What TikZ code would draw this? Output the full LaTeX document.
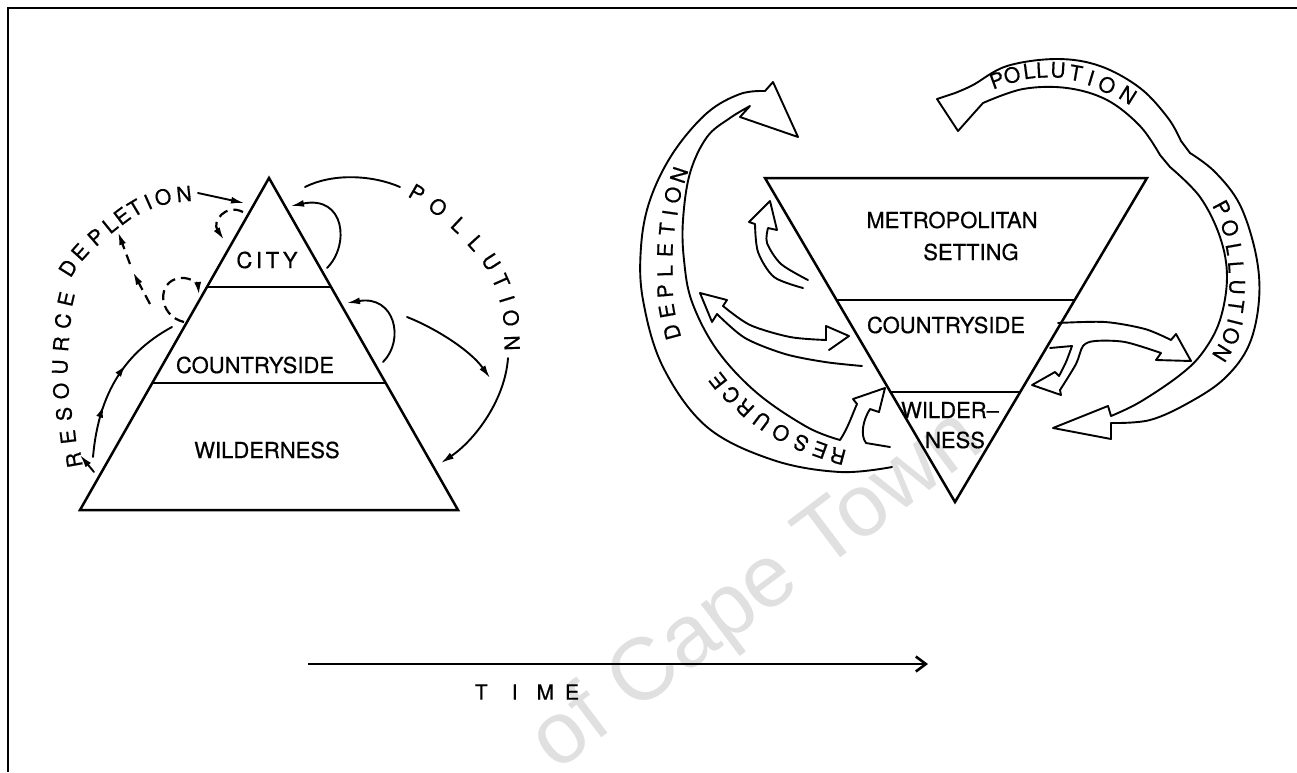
\documentclass[tikz,border=0pt]{standalone}
\usepackage{fontspec}
\setmainfont{TeX Gyre Heros}[FakeBold=0.6]
\newfontfamily\wmfont{Liberation Sans}
\usetikzlibrary{arrows.meta,calc,decorations.markings}
\newcommand\lblfont{\fontsize{22}{22}\selectfont}
\newcommand\arcletfont{\fontsize{21}{21}\selectfont}
\begin{document}
\begin{tikzpicture}[x=1pt,y=-1pt,
  mainln/.style={line width=2.5pt, line join=miter},
  aln/.style={line width=1.9pt, line join=round, line cap=round},
  dashln/.style={aln, line width=2.2pt, line cap=butt, dash pattern=on 10pt off 6pt},
  lbl/.style={inner sep=0pt, font=\lblfont},
  arcl/.style={inner sep=0pt, font=\arcletfont},
  atip/.style={-{Latex[length=13pt,width=7pt]}},
]
\useasboundingbox (0,0) rectangle (1297,772);
\fill[white] (0,0) rectangle (1297,772);
% watermark
\node[rotate=37, text=black!12, inner sep=0pt, font={\wmfont\fontsize{88}{88}\selectfont}] (wm) at (758,592) {of Cape Town};
% frame
\draw[line width=2.6pt] (8,772) -- (8,8) -- (1297,8);

% ---------------- left pyramid ----------------
\coordinate (A) at (269,178);
\coordinate (BL) at (80,510);
\coordinate (BR) at (458,510);
\draw[mainln] (A) -- (BL) -- (BR) -- cycle;
\draw[mainln] ($(A)!0.328!(BL)$) -- ($(A)!0.328!(BR)$);
\draw[mainln] ($(A)!0.617!(BL)$) -- ($(A)!0.617!(BR)$);
\node[lbl] (city) at (267,260) {C\,I\,T\,Y};
\node[lbl] (cs1) at (255,365) {COUNTRYSIDE};
\node[lbl] (wild1) at (267,450) {WILDERNESS};

% arc texts
\foreach \c/\x/\y/\r [count=\i] in {R/74/460/100, E/68/437/97, S/64/414/94, O/61/391/91, U/60/367/88, R/61/344/85, C/63/321/81, E/66/299/77,
  D/68/268/58, E/80/252/48, P/96/237/41, L/110/225/39, E/122/216/37, T/135/208/31, I/148/202/24, O/163/197/15, N/184/194/6}
  \node[arcl, rotate=\r] (lrd\i) at (\x,\y) {\c};
\foreach \c/\x/\y/\r [count=\i] in {P/417/193/-30, O/438/207/-38, L/459/225/-43, L/476/243/-48, U/491/262/-57, T/501/281/-66, I/507/299/-73, O/511/318/-80, N/512/343/-88}
  \node[arcl, rotate=\r] (lpo\i) at (\x,\y) {\c};

% left arrows
\coordinate (rdN) at (198,193);
\coordinate (rdT) at (244,203);
\draw[aln, atip] (rdN) -- (rdT);
\draw[dashln, atip] (243,212) .. controls (225,203) and (212,222) .. (224,240);
\draw[dashln, atip] (184,322) .. controls (158,316) and (156,281) .. (180,278) .. controls (192,277) and (198,285) .. (199,295);
\draw[dashln, atip] (150,304) -- (133,272);
\draw[dashln, atip] (130,264) -- (118,232);
\draw[aln, postaction={decorate}, decoration={markings,
   mark=at position 0.33 with {\arrow{Latex[length=12pt,width=7pt]}},
   mark=at position 0.62 with {\arrow{Latex[length=12pt,width=7pt]}}}]
   (93,457) .. controls (98,400) and (120,355) .. (172,327);
\draw[aln, atip] (94,472) -- (80,455);

\draw[aln] (305,187) .. controls (335,172) and (375,176) .. (400,187);
\draw[aln, atip] (508,358) .. controls (505,400) and (475,440) .. (441,463);
\draw[aln, atip] (407,317) .. controls (435,328) and (470,350) .. (490,378);
\draw[aln, atip] (327,268) .. controls (350,245) and (345,195) .. (291,206);
\draw[aln, atip] (383,362) .. controls (405,340) and (395,295) .. (347,303);

% ---------------- right (inverted) triangle ----------------
\coordinate (TL) at (765,178);
\coordinate (TR) at (1147,178);
\coordinate (B) at (955,502);
\draw[mainln] (TL) -- (TR) -- (B) -- cycle;
\draw[mainln] ($(TL)!0.377!(B)$) -- ($(TR)!0.377!(B)$);
\draw[mainln] ($(TL)!0.660!(B)$) -- ($(TR)!0.660!(B)$);
\node[lbl] (metro) at (952,220) {METROPOLITAN};
\node[lbl] (sett) at (971,252) {SETTING};
\node[lbl] (cs2) at (946,325) {COUNTRYSIDE};
\node[lbl] (wild2a) at (950,410) {WILDER--};
\node[lbl] (wild2b) at (955,440) {NESS};

% resource depletion band
\draw[aln] plot[smooth, tension=0.6] coordinates {(892,467) (840,472) (773,460) (707,427) (663,367) (643,300) (641,247) (650,200) (673,153) (707,113) (740,94) (765,91)}
  -- (773,82) -- (798,137) -- (740,117) -- (750,106)
  -- plot[smooth, tension=0.6] coordinates {(750,106) (730,118) (707,137) (690,173) (683,220) (684,260) (692,302) (717,350) (757,393) (807,427) (840,440)}
  .. controls (848,428) and (852,415) .. (857,404) -- (853,399) -- (885,388) -- (879,412) -- (870,409)
  .. controls (863,420) and (860,435) .. (866,443) -- (890,447);
\foreach \c/\x/\y/\r [count=\i] in {R/838/456/165, E/820/450/160, S/801/443/155, O/781/433/150, U/762/421/143, R/745/408/137, C/731/395/132, E/718/381/128,
  D/672/332/105, E/667/311/100, P/665/291/95, L/665/271/91, E/665/250/88, T/667/229/85, I/670/213/82, O/673/195/78, N/679/175/72}
  \node[arcl, rotate=\r] (rrd\i) at (\x,\y) {\c};

% metropolitan small arrow
\draw[aln] plot[smooth] coordinates {(803,288) (774,277) (758,252) (755,224)} -- (749,222) -- (770,201) -- (777,230) -- (768,228)
  -- plot[smooth] coordinates {(768,228) (767,243) (781,264) (808,280)};

% countryside left double arrow
\draw[aln] (723,306) -- (727,300) -- (700,293) -- (712,322) -- (717,314);
\draw[aln] plot[smooth] coordinates {(723,306) (750,325) (790,337) (826,340)} -- (826,326) -- (849,336) -- (829,350);
\draw[aln] plot[smooth] coordinates {(717,314) (745,338) (785,354) (825,362) (862,366)};

% countryside right forked arrow
\draw[aln] plot[smooth] coordinates {(1058,323) (1105,322) (1145,329) (1171,340)} -- (1176,334) -- (1191,361) -- (1156,360) -- (1161,353)
  -- plot[smooth] coordinates {(1161,353) (1125,342) (1095,341) (1083,346) (1076,364) (1060,390)} -- (1061,395) -- (1032,385) -- (1055,372) -- (1059,376)
  -- plot[smooth] coordinates {(1059,376) (1066,362) (1072,346)} -- (1050,348);

% pollution band
\draw[aln] (983,103) -- (974,113) -- (958,131) -- (937,99) -- (955,93)
  -- plot[smooth, tension=0.6] coordinates {(955,93) (973,85) (1007,66) (1057,59) (1100,66) (1140,88) (1168,118) (1181,141)}
  -- (1190,153)
  -- plot[smooth, tension=0.6] coordinates {(1190,153) (1215,172) (1240,205) (1256,255) (1259,300) (1249,345) (1225,378) (1190,402) (1150,420) (1111,423)}
  -- (1111,439) -- (1053,428) -- (1108,406) -- (1111,416)
  -- plot[smooth, tension=0.6] coordinates {(1111,416) (1140,402) (1180,375) (1203,352) (1220,320) (1227,277) (1220,237) (1200,197) (1170,167)}
  -- (1160,155)
  -- plot[smooth, tension=0.6] coordinates {(1160,155) (1140,126) (1107,100) (1067,88) (1023,89) (983,103)};
\foreach \c/\x/\y/\r [count=\i] in {P/997/80/20, O/1012/75/14, L/1029/71/8, L/1042/70/3, U/1058/70/-3, T/1076/73/-10, I/1091/78/-17, O/1107/85/-24, N/1128/95/-32}
  \node[arcl, rotate=\r] (rpt\i) at (\x,\y) {\c};
\foreach \c/\x/\y/\r [count=\i] in {P/1222/208/-62, O/1230/228/-72, L/1234/249/-80, L/1236/267/-86, U/1237/287/-92, T/1236/306/-98, I/1235/322/-104, O/1231/336/-112, N/1222/353/-122}
  \node[arcl, rotate=\r] (rpr\i) at (\x,\y) {\c};

% time arrow
\coordinate (t0) at (308,664);
\coordinate (t1) at (928,664);
\draw[line width=2.6pt, -{Straight Barb[length=10pt,width=15pt]}] (t0) -- (t1);
\node[inner sep=0pt, font=\fontsize{21}{21}\selectfont] (time) at (527,692) {T\hspace{24pt}I\hspace{19pt}M\hspace{11pt}E};
\end{tikzpicture}
\end{document}
